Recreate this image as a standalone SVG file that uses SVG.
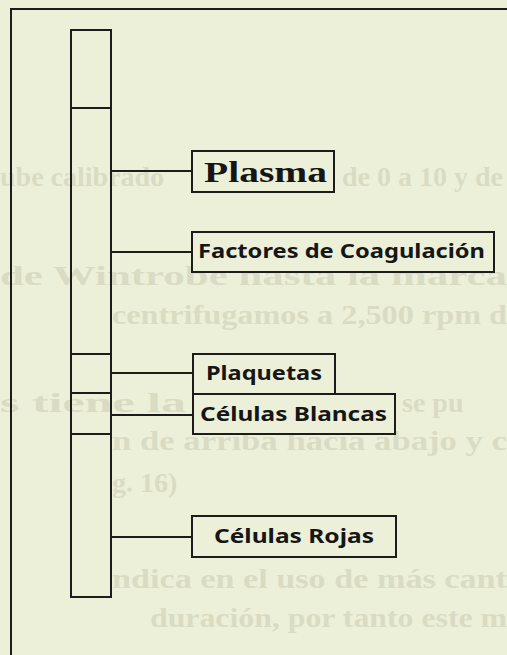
<svg xmlns="http://www.w3.org/2000/svg" width="507" height="655" viewBox="0 0 507 655">
<style>
.bg{fill:#edf0d8}
.faint{font-family:"Liberation Serif",serif;font-weight:bold;font-size:28px;fill:#d9dcc3}
.ln{stroke:#1c1c1c;stroke-width:2;fill:none}
.box{fill:#edf0d8;stroke:#1c1c1c;stroke-width:2}
.lbl{font-family:"Noto Sans","Liberation Sans",sans-serif;font-weight:bold;font-size:20px;fill:#161616}
.big{font-family:"Liberation Serif",serif;font-weight:bold;font-size:29px;fill:#161616}
</style>
<rect class="bg" x="0" y="0" width="507" height="655"/>
<g id="background-text">
<text class="faint" x="0" y="186">ube calibrado</text>
<text class="faint" x="342" y="186">de 0 a 10 y de</text>
<text class="faint" x="0" y="285" textLength="507" lengthAdjust="spacingAndGlyphs">de Wintrobe hasta la marca</text>
<text class="faint" x="112" y="324" textLength="395" lengthAdjust="spacingAndGlyphs">centrifugamos a 2,500 rpm d</text>
<text class="faint" x="0" y="412" textLength="186" lengthAdjust="spacingAndGlyphs">s tiene la</text>
<text class="faint" x="402" y="412">se pu</text>
<text class="faint" x="112" y="450" textLength="395" lengthAdjust="spacingAndGlyphs">n de arriba hacia abajo y c</text>
<text class="faint" x="112" y="492">g. 16)</text>
<text class="faint" x="112" y="588" textLength="395" lengthAdjust="spacingAndGlyphs">ndica en el uso de más cant</text>
<text class="faint" x="150" y="627" textLength="357" lengthAdjust="spacingAndGlyphs">duración, por tanto este m</text>
</g>
<g id="frame"><path class="ln" d="M11,655 V9 H507"/></g>
<g id="tube">
<rect class="ln" x="71" y="30" width="40" height="567"/>
<path class="ln" d="M71,108 H111 M71,354 H111 M71,393 H111 M71,434 H111"/>
</g>
<g id="connectors">
<path class="ln" stroke-width="1.6" d="M111,171 H192 M111,252 H192 M111,373 H193 M111,415 H193 M111,537 H192"/>
</g>
<g id="plasma">
<rect class="box" x="192" y="151" width="142" height="41"/>
<text class="big" x="204" y="182" textLength="123" lengthAdjust="spacingAndGlyphs">Plasma</text>
</g>
<g id="factores">
<rect class="box" x="192" y="232" width="302" height="40"/>
<text class="lbl" x="198" y="258" textLength="287" lengthAdjust="spacingAndGlyphs">Factores de Coagulación</text>
</g>
<g id="plaquetas">
<rect class="box" x="193" y="354" width="142" height="40"/>
<text class="lbl" x="206" y="380" textLength="116" lengthAdjust="spacingAndGlyphs">Plaquetas</text>
</g>
<g id="blancas">
<rect class="box" x="193" y="394" width="202" height="40"/>
<text class="lbl" x="200" y="421" textLength="187" lengthAdjust="spacingAndGlyphs">Células Blancas</text>
</g>
<g id="rojas">
<rect class="box" x="192" y="516" width="204" height="41"/>
<text class="lbl" x="214" y="543" textLength="160" lengthAdjust="spacingAndGlyphs">Células Rojas</text>
</g>
</svg>
